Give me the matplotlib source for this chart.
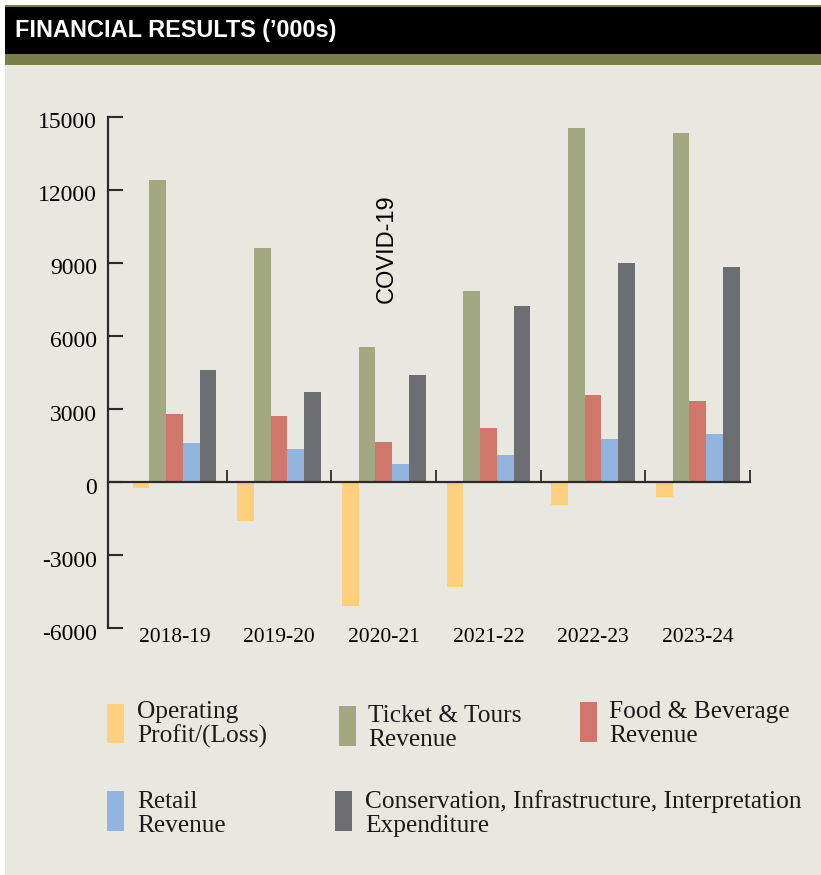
import matplotlib
matplotlib.use('Agg')
import matplotlib.pyplot as plt
from matplotlib.patches import Rectangle
from matplotlib.ticker import FixedLocator
from matplotlib.transforms import ScaledTranslation
import numpy as np

# values in '000s
years = ['2018-19', '2019-20', '2020-21', '2021-22', '2022-23', '2023-24']
operating = [-260, -1600, -5100, -4320, -950, -620]
ticket = [12400, 9600, 5540, 7840, 14540, 14330]
food = [2780, 2700, 1630, 2210, 3560, 3320]
retail = [1590, 1340, 730, 1100, 1760, 1960]
conservation = [4620, 3690, 4390, 7220, 8990, 8820]

series_labels = ['Operating\nProfit/(Loss)', 'Ticket & Tours\nRevenue',
                 'Food & Beverage\nRevenue', 'Retail\nRevenue',
                 'Conservation, Infrastructure, Interpretation\nExpenditure']
series_colors = ['#FECF7D', '#A2A980', '#D0766A', '#94B4E0', '#6D6E72']
y_ticks = [-6000, -3000, 0, 3000, 6000, 9000, 12000, 15000]

W, H = 821, 875
BG = '#E8E7E0'
OLIVE = '#788048'
AXC = '#2b2b2b'
SERIF = 'Liberation Serif'
SANS = 'Liberation Sans'


def fx(px):
    return px / W


def fy(py):
    return 1 - py / H


def frame(fig):
    # page background, title bar and olive band
    fig.patches.append(Rectangle((fx(5), 0), 1, fy(65), transform=fig.transFigure,
                                 facecolor=BG, edgecolor='none', zorder=-2))
    fig.patches.append(Rectangle((fx(5), fy(65)), 1, fy(54) - fy(65), transform=fig.transFigure,
                                 facecolor=OLIVE, edgecolor='none', zorder=-2))
    fig.patches.append(Rectangle((fx(5), fy(54)), 1, fy(7) - fy(54), transform=fig.transFigure,
                                 facecolor='black', edgecolor='none', zorder=-2))
    fig.patches.append(Rectangle((fx(5), fy(7)), 1, fy(5) - fy(7), transform=fig.transFigure,
                                 facecolor=OLIVE, edgecolor='none', zorder=-2))
    fig.text(fx(15), fy(30.5), "FINANCIAL RESULTS (\u2019000s)", color='white',
             family=SANS, fontweight='bold', fontsize=16.9, ha='left', va='center')


def legend(fig):
    boxes = [(107, 704, 743), (339, 706, 746), (580, 702, 742),
             (107, 791, 831), (335, 791, 831)]
    # x of text, baseline of the last line
    text_pos = [(137, 743), (368, 746), (609, 742), (137, 832), (365, 832)]
    for (x0, top, bot), (tx, base), lab, col in zip(boxes, text_pos, series_labels, series_colors):
        fig.patches.append(Rectangle((fx(x0), fy(bot)), fx(17), fy(top) - fy(bot),
                                     transform=fig.transFigure, facecolor=col,
                                     edgecolor='none', zorder=1))
        fig.text(fx(tx), fy(base), lab, family=SERIF, fontsize=18.3, color='#1a1a1a',
                 ha='left', va='baseline', linespacing=1.13)


def main():
    fig = plt.figure(figsize=(W / 100, H / 100), dpi=100, facecolor='white')
    frame(fig)

    ax = fig.add_axes([fx(107.7), fy(628.3), fx(750) - fx(107.7), fy(116.7) - fy(628.3)])
    ax.set_facecolor('none')
    ax.set_zorder(2)

    x = np.arange(len(years))
    bw = 0.16
    all_series = [operating, ticket, food, retail, conservation]
    for i, (vals, col) in enumerate(zip(all_series, series_colors)):
        ax.bar(x + (i - 2) * bw, vals, width=bw, color=col, edgecolor='none', zorder=2)

    ax.set_xlim(-0.638, 5.5)
    ax.set_ylim(-6000, 15000)

    for s in ['top', 'right']:
        ax.spines[s].set_visible(False)
    ax.spines['left'].set_color(AXC)
    ax.spines['left'].set_linewidth(1.6)
    ax.spines['bottom'].set_position(('data', 0))
    ax.spines['bottom'].set_color(AXC)
    ax.spines['bottom'].set_linewidth(1.6)
    ax.spines['bottom'].set_zorder(3)

    ax.set_yticks(y_ticks)
    ax.set_yticklabels([str(v) for v in y_ticks], family=SERIF, fontsize=17)
    ax.tick_params(axis='y', direction='in', length=11, width=1.5, color=AXC, pad=7.5)
    # labels sit a little below their ticks in the original
    shift = ScaledTranslation(0, -0.035, fig.dpi_scale_trans)
    for lab in ax.get_yticklabels():
        lab.set_transform(lab.get_transform() + shift)

    ax.set_xticks(x)
    ax.set_xticklabels(years, family=SERIF, fontsize=15.5)
    ax.xaxis.set_minor_locator(FixedLocator(x + 0.5))
    ax.tick_params(axis='x', which='major', length=0, pad=105)
    ax.tick_params(axis='x', which='minor', direction='in', length=8.6, width=1.3, color=AXC)

    ax.text(2.03, 9600, 'COVID-19', rotation=90, family=SANS, fontsize=17,
            ha='center', va='center', color='black')

    legend(fig)
    fig.savefig('out.png', dpi=100, facecolor='white')


if __name__ == '__main__':
    main()
